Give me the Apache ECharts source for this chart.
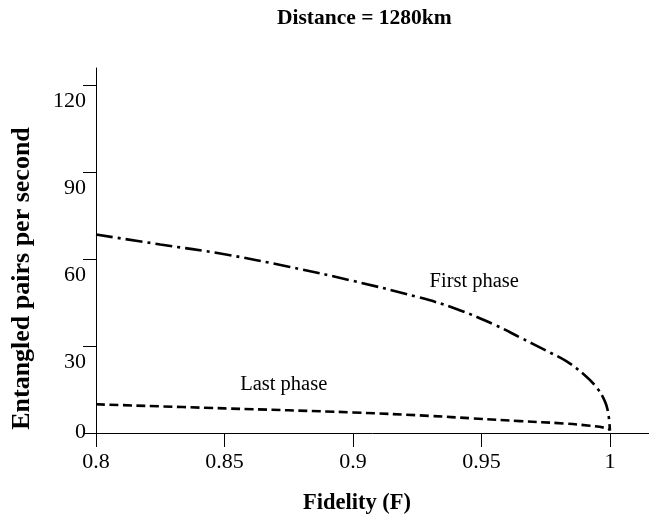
<!DOCTYPE html>
<html>
<head>
<meta charset="utf-8">
<script src="https://cdn.jsdelivr.net/npm/echarts@6/dist/echarts.min.js"></script>
<style>
  html, body { margin: 0; padding: 0; background: #fff; }
  #chart { width: 649px; height: 520px; }
</style>
</head>
<body>
<div id="chart"></div>
<script>
// Entanglement generation rate versus target fidelity, 1280 km link
const fidelityFirst = [0.800, 0.825, 0.850, 0.875, 0.900, 0.925, 0.940, 0.955, 0.965, 0.975, 0.983, 0.990, 0.995, 0.998, 0.9993, 1.000];
const firstPhase    = [68.5,  65.1,  61.7,  57.4,  52.5,  47.0,  42.9,  37.4,  33.0,  28.5,  24.8,  20.1,  15.5,  11.0,  7.1,    0.8];

const fidelityLast  = [0.800, 0.850, 0.900, 0.930, 0.9466, 0.965, 0.982, 0.9922, 0.999, 1.000];
const lastPhase     = [9.9,   8.5,   7.1,   5.9,   5.05,   4.1,   3.3,   2.5,    1.6,   1.0];

const xTickValues = [0.8, 0.85, 0.9, 0.95, 1];
const xTickLabels = ['0.8', '0.85', '0.9', '0.95', '1'];
const yTickValues = [0, 30, 60, 90, 120];

const curveLabels = ['First phase', 'Last phase'];
const curveLabelAt = [[0.9298, 52.3], [0.8561, 16.6]];

const serif = 'Liberation Serif, Times New Roman, serif';

function pairs(xs, ys) { return xs.map((x, i) => [x, ys[i]]); }

function curveLabel(i) {
  return {
    symbol: 'circle',
    symbolSize: 0,
    silent: true,
    label: {
      show: true,
      position: 'right',
      distance: 0,
      formatter: curveLabels[i],
      color: '#000',
      fontFamily: serif,
      fontSize: 20.5
    },
    data: [{ coord: curveLabelAt[i] }]
  };
}

const chart = echarts.init(document.getElementById('chart'), null, { renderer: 'canvas' });

chart.setOption({
  animation: false,
  backgroundColor: '#fff',
  title: {
    text: 'Distance = 1280km',
    left: 277,
    top: 7,
    padding: 0,
    textStyle: { fontFamily: serif, fontWeight: 'bold', fontSize: 21.5, color: '#000' }
  },
  grid: { left: 96, right: 0, top: 68, bottom: 86, containLabel: false },
  xAxis: {
    type: 'value',
    min: 0.8,
    max: 1.0152,
    name: 'Fidelity (F)',
    nameLocation: 'middle',
    nameGap: 59,
    nameTextStyle: { fontFamily: serif, fontWeight: 'bold', fontSize: 22.5, color: '#000', padding: [0, 31, 0, 0] },
    axisLine: { show: true, lineStyle: { color: '#000', width: 1 } },
    axisTick: { show: true, length: 14, customValues: xTickValues, lineStyle: { color: '#000' } },
    axisLabel: {
      customValues: xTickValues,
      formatter: v => xTickLabels[xTickValues.findIndex(t => Math.abs(t - v) < 1e-9)],
      margin: 18,
      fontFamily: serif,
      fontSize: 22,
      color: '#000'
    },
    splitLine: { show: false }
  },
  yAxis: {
    type: 'value',
    min: 0,
    max: 126,
    name: 'Entangled pairs per second',
    nameLocation: 'middle',
    nameRotate: 90,
    nameGap: 61,
    nameTextStyle: { fontFamily: serif, fontWeight: 'bold', fontSize: 26, color: '#000', padding: [0, 56, 0, 0] },
    axisLine: { show: true, lineStyle: { color: '#000', width: 1 } },
    axisTick: { show: true, length: 13, customValues: yTickValues, lineStyle: { color: '#000' } },
    axisLabel: {
      customValues: yTickValues,
      margin: 10,
      fontFamily: serif,
      fontSize: 22,
      color: '#000',
      formatter: v => (v === 0 ? '{z|0}' : '{n|' + v + '}'),
      rich: {
        z: { fontFamily: serif, fontSize: 22, color: '#000', padding: [0, 0, 1, 0] },
        n: { fontFamily: serif, fontSize: 22, color: '#000', padding: [32, 0, 0, 0] }
      }
    },
    splitLine: { show: false }
  },
  series: [
    {
      name: 'First phase',
      type: 'line',
      data: pairs(fidelityFirst, firstPhase),
      showSymbol: false,
      smooth: 0.4,
      lineStyle: { color: '#000', width: 2.6, type: [17, 5, 3, 5], cap: 'butt' },
      markPoint: curveLabel(0)
    },
    {
      name: 'Last phase',
      type: 'line',
      data: pairs(fidelityLast, lastPhase),
      showSymbol: false,
      smooth: 0.4,
      lineStyle: { color: '#000', width: 2.6, type: [9, 4.5], cap: 'butt' },
      markPoint: curveLabel(1)
    }
  ]
});
</script>
</body>
</html>
